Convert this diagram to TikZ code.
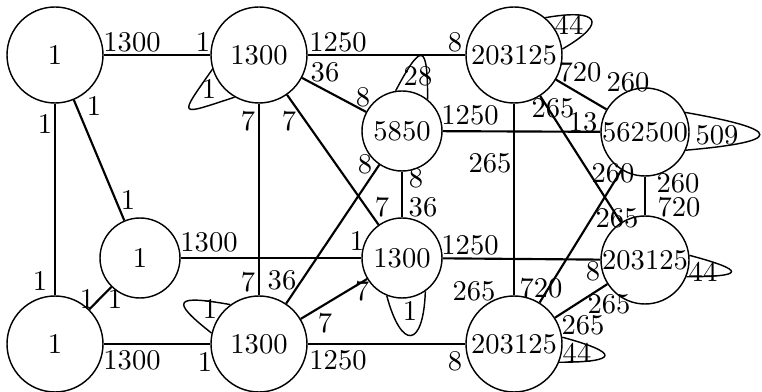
\documentclass[tikz,border=0pt]{standalone}
\begin{document}
\begin{tikzpicture}[x=0.35pt, y=0.35pt,
  vtx/.style={circle, draw, line width=0.5pt, inner sep=0pt},
  bigv/.style={vtx, minimum size=33.6pt},
  midv/.style={vtx, minimum size=30.8pt},
  smallv/.style={vtx, minimum size=28pt},
  conn/.style={line width=0.75pt},
  loopc/.style={line width=0.5pt},
  lbl/.style={inner sep=0pt}]
\useasboundingbox (0,0) rectangle (762,392);
% vertices
\node[bigv] (A) at (55,337) {1};
\node[bigv] (B) at (259,337) {1300};
\node[bigv] (C) at (514,337) {203125};
\node[smallv] (D) at (402,261) {5850};
\node[midv] (E) at (645,260) {562500};
\node[smallv] (F) at (140,134) {1};
\node[smallv] (I) at (402,134) {1300};
\node[midv] (J) at (645,132) {203125};
\node[bigv] (G) at (55,48) {1};
\node[bigv] (H) at (259,48) {1300};
\node[bigv] (K) at (514,48) {203125};
% edges
\draw[conn] (A) -- (B);
\node[lbl] at (132,350) {1300}; \node[lbl] at (203,350) {1};
\draw[conn] (A) -- (G);
\node[lbl] at (45,268) {1}; \node[lbl] at (40,111) {1};
\draw[conn] (A) -- (F);
\node[lbl] at (94,286) {1}; \node[lbl] at (128,192) {1};
\draw[conn] (G) -- (F);
\node[lbl] at (87,93) {1}; \node[lbl] at (115,93) {1};
\draw[conn] (F) -- (I);
\node[lbl] at (209,150) {1300}; \node[lbl] at (357,151) {1};
\draw[conn] (G) -- (H);
\node[lbl] at (132,32) {1300}; \node[lbl] at (205,30) {1};
\draw[conn] (B) -- (H);
\node[lbl] at (248,271) {7}; \node[lbl] at (248,110) {7};
\draw[conn] (B) -- (I);
\node[lbl] at (289,271) {7}; \node[lbl] at (382,185) {7};
\draw[conn] (B) -- (D);
\node[lbl] at (325,320) {36}; \node[lbl] at (363,295) {8};
\draw[conn] (B) -- (C);
\node[lbl] at (338,350) {1250}; \node[lbl] at (455,350) {8};
\draw[conn] (C) -- (E);
\node[lbl] at (580,320) {720}; \node[lbl] at (628,310) {260};
\draw[conn] (C) -- (J);
\node[lbl] at (553,284) {265}; \node[lbl] at (617,174) {265};
\draw[conn] (C) -- (K);
\node[lbl] at (490,229) {265}; \node[lbl] at (474,101) {265};
\draw[conn] (D) -- (E);
\node[lbl] at (470,277) {1250}; \node[lbl] at (583,270) {13};
\draw[conn] (E) -- (J);
\node[lbl] at (678,209) {260}; \node[lbl] at (679,185) {720};
\draw[conn] (E) -- (K);
\node[lbl] at (613,219) {260}; \node[lbl] at (541,104) {720};
\draw[conn] (D) -- (I);
\node[lbl] at (416,214) {8}; \node[lbl] at (423,185) {36};
\draw[conn] (D) -- (H);
\node[lbl] at (365,228) {8}; \node[lbl] at (282,112) {36};
\draw[conn] (I) -- (J);
\node[lbl] at (470,147) {1250}; \node[lbl] at (593,121) {8};
\draw[conn] (H) -- (I);
\node[lbl] at (325,69) {7}; \node[lbl] at (362,101) {7};
\draw[conn] (H) -- (K);
\node[lbl] at (338,32) {1250}; \node[lbl] at (455,31) {8};
\draw[conn] (K) -- (J);
\node[lbl] at (609,88) {265}; \node[lbl] at (583,67) {265};
% self loops
\draw[loopc] (B.197) .. controls +(235:60) and +(198:60) .. (B.240);
\node[lbl] at (209,303) {1};
\draw[loopc] (H.126) .. controls +(170:55) and +(142:55) .. (H.167);
\node[lbl] at (210,83) {1};
\draw[loopc] (I.248) .. controls +(285:57) and +(268:57) .. (I.305);
\node[lbl] at (410,81) {1};
\draw[loopc] (D.99) .. controls +(62:56) and +(90:56) .. (D.51);
\node[lbl] at (418,316) {28};
\draw[loopc] (C.50) .. controls +(10:54) and +(30:54) .. (C.7);
\node[lbl] at (569,367) {44};
\draw[loopc] (E.26) .. controls +(-10:100) and +(5:100) .. (E.-24);
\node[lbl] at (717,257) {509};
\draw[loopc] (J.6) .. controls +(-15:59) and +(0:59) .. (J.-22);
\node[lbl] at (703,120) {44};
\draw[loopc] (K.8) .. controls +(-15:60) and +(0:60) .. (K.-22);
\node[lbl] at (577,39) {44};
\end{tikzpicture}
\end{document}
